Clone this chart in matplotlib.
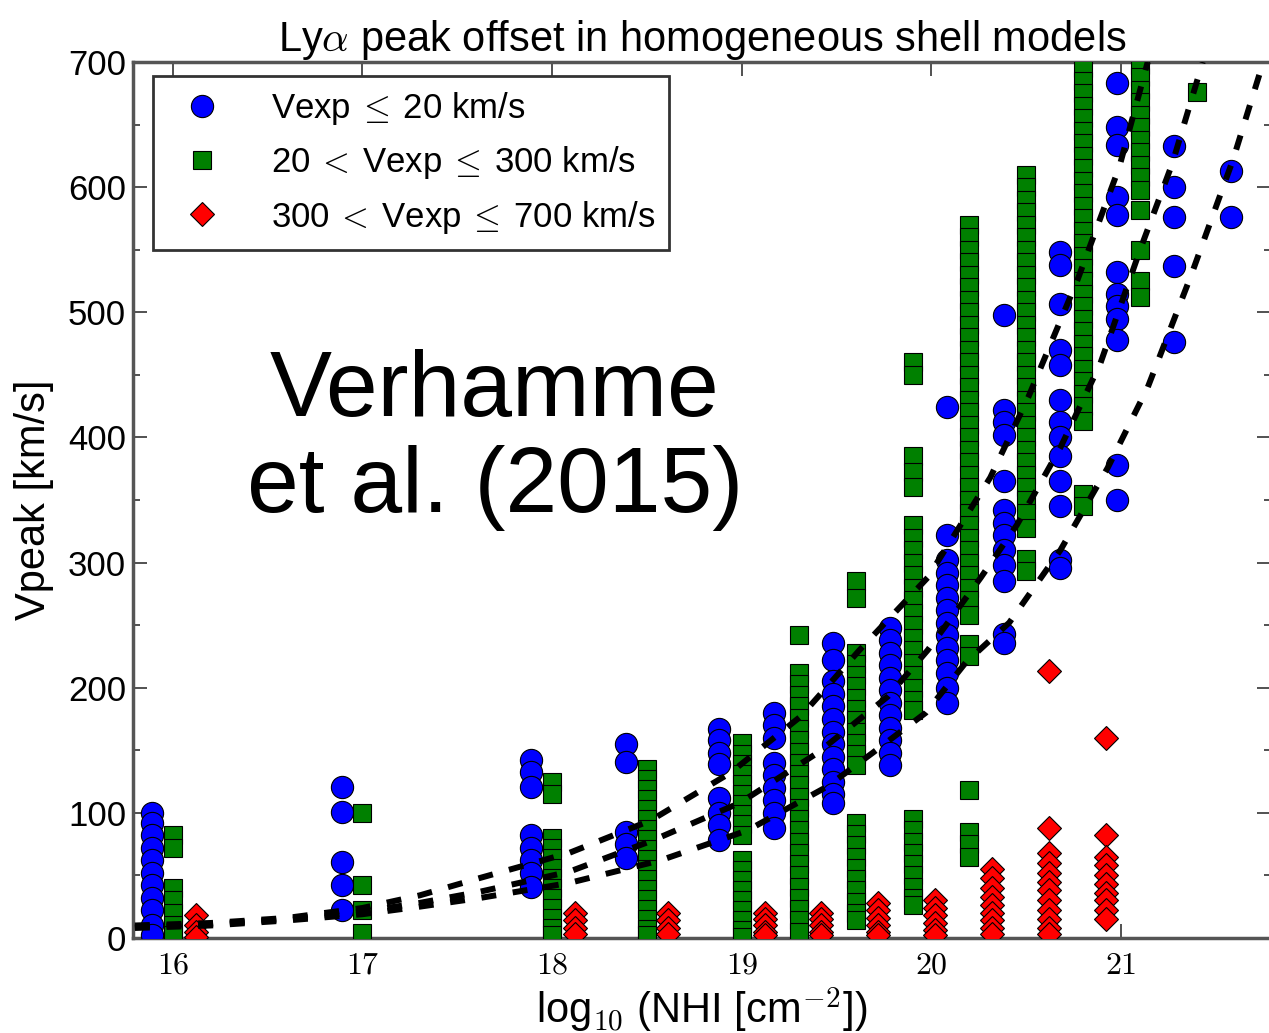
'''
Lya peak offset vs column density (shell models), redrawn
'''

import matplotlib
matplotlib.use('Agg')
import matplotlib.pyplot as plt
from matplotlib.ticker import MultipleLocator

plt.rcParams['font.family'] = ['Liberation Sans', 'DejaVu Sans']
plt.rcParams['mathtext.fontset'] = 'cm'

# blue circles: Vexp <= 20 km/s  (x column, peak velocities)
blue_x = [15.89, 16.89, 17.89, 18.39, 18.88, 19.17, 19.48, 19.78, 20.08, 20.38, 20.68, 20.98, 21.28, 21.58]
blue_v = [
    [100, 92, 82, 72, 62, 52, 42, 32, 22, 10, 2],
    [121, 101, 61, 42, 22],
    [142, 133, 121, 82, 72, 62, 52, 41],
    [155, 141, 85, 75, 64],
    [167, 158, 148, 139, 112, 100, 90, 78],
    [180, 170, 160, 140, 130, 120, 110, 100, 88],
    [236, 222, 205, 195, 185, 175, 165, 155, 145, 135, 125, 115, 108],
    [248, 238, 228, 218, 208, 198, 188, 178, 168, 158, 148, 138],
    [424, 322, 302, 292, 282, 272, 262, 252, 242, 232, 222, 212, 200, 188],
    [498, 422, 412, 402, 365, 342, 332, 322, 310, 298, 285, 243, 236],
    [548, 538, 507, 470, 458, 430, 412, 400, 385, 365, 345, 302, 296],
    [683, 648, 634, 592, 578, 532, 515, 505, 495, 478, 378, 350],
    [633, 600, 576, 537, 476],
    [613, 576],
]

# green squares: 20 < Vexp <= 300 km/s
green_x = [16.0, 17.0, 18.0, 18.5, 19.0, 19.3, 19.6, 19.9, 20.2, 20.5, 20.8, 21.1, 21.4]
green_v = [
    [82, 72, 40, 30, 20, 10, 2],
    [100, 42, 22, 4],
    [125, 115, 80, 72, 64, 56, 48, 40, 32, 24, 16, 8, 2],
    [135, 127, 119, 111, 103, 95, 87, 79, 71, 63, 55, 47, 39, 31, 23, 15, 7, 2],
    [156, 147, 139, 131, 123, 115, 107, 99, 91, 82, 62, 54, 46, 38, 30, 22, 14, 6, 1],
    [242, 212, 203, 194, 185, 176, 167, 158, 149, 140, 131, 122, 113, 104, 95, 86, 77,
     68, 59, 50, 41, 32, 23, 14, 5],
    [285, 272, 228, 219, 210, 201, 192, 183, 174, 165, 156, 147, 138,
     92, 83, 74, 65, 56, 47, 38, 29, 20, 14],
    [460, 450, 385, 372, 360, 330, 320, 310, 300, 290, 280, 270, 260, 250, 240, 230,
     220, 210, 200, 190, 182, 95, 86, 77, 68, 59, 50, 41, 32, 26],
    [570, 560, 550, 540, 530, 520, 510, 500, 490, 480, 470, 460, 450, 440, 430, 420,
     410, 400, 390, 380, 370, 360, 350, 340, 330, 320, 310, 300, 290, 280, 270, 258,
     235, 225, 118, 85, 75, 65],
    [610, 600, 590, 580, 570, 560, 550, 540, 530, 520, 510, 500, 490, 480, 470, 460,
     450, 440, 430, 420, 410, 400, 390, 380, 370, 360, 350, 340, 328, 303, 293],
    [695, 685, 675, 665, 655, 645, 635, 625, 615, 605, 595, 585, 575, 565, 555, 545,
     535, 525, 515, 505, 495, 485, 475, 465, 455, 445, 435, 425, 413, 355, 345],
    [698, 688, 678, 668, 658, 648, 638, 628, 618, 608, 598, 582, 550, 525, 512],
    [676],
]

# red diamonds: 300 < Vexp <= 700 km/s
red_x = [16.12, 18.12, 18.61, 19.12, 19.42, 19.72, 20.02, 20.32, 20.62, 20.92]
red_v = [
    [18, 10, 5, 1],
    [20, 14, 8, 3],
    [20, 14, 8, 3],
    [20, 15, 10, 5, 2],
    [20, 15, 10, 5, 2],
    [28, 22, 16, 10, 5, 2],
    [30, 24, 18, 12, 6, 2],
    [55, 48, 40, 33, 26, 20, 14, 8, 3],
    [213, 88, 68, 60, 52, 45, 38, 30, 22, 15, 8, 3],
    [160, 82, 65, 58, 50, 43, 36, 30, 22, 15],
]

# dashed curves
lineA_x = [15.80, 16.20, 16.60, 17.00, 17.30, 17.62, 18.09, 18.52, 18.94, 19.31, 19.62, 19.98, 20.31, 20.51, 20.77, 20.99, 21.14]
lineA_v = [10, 12, 16, 24, 34, 48, 68, 94, 132, 177, 230, 288, 368, 432, 526, 616, 700]
lineB_x = [15.80, 16.20, 16.60, 17.00, 17.30, 17.62, 18.09, 18.53, 18.99, 19.40, 19.77, 19.98, 20.26, 20.45, 20.68, 20.89, 21.10, 21.27, 21.43]
lineB_v = [9, 11, 15, 21, 28, 37, 53, 78, 108, 148, 193, 230, 288, 330, 392, 459, 550, 619, 700]
lineC_x = [15.80, 16.20, 16.60, 17.00, 17.30, 17.62, 18.09, 18.57, 19.03, 19.45, 19.69, 19.97, 20.18, 20.41, 20.68, 20.93, 21.14, 21.37, 21.59, 21.79]
lineC_v = [8, 10, 14, 19, 25, 32, 44, 62, 86, 121, 148, 180, 220, 252, 310, 376, 440, 530, 622, 720]

x_ticks = [16, 17, 18, 19, 20, 21]
x_tick_labels = [r'$16$', r'$17$', r'$18$', r'$19$', r'$20$', r'$21$']
labels = [r'Vexp$\:\leq\:$20 km/s',
          r'20$\:<\:$Vexp$\:\leq\:$300 km/s',
          r'300$\:<\:$Vexp$\:\leq\:$700 km/s']


def flatten(xs, vs):
    fx, fv = [], []
    for x, col in zip(xs, vs):
        fx += [x] * len(col)
        fv += col
    return fx, fv


fig = plt.figure(figsize=(12.69, 10.33), dpi=100)
ax = fig.add_axes([133 / 1269, 95 / 1033, 1138 / 1269, 876 / 1033])

bx, bv = flatten(blue_x, blue_v)
gx, gv = flatten(green_x, green_v)
rx, rv = flatten(red_x, red_v)

ax.plot(bx, bv, 'o', color='#0000ff', mec='k', mew=0.8, ms=16, label=labels[0], zorder=3)
ax.plot(gx, gv, 's', color='#008000', mec='k', mew=0.8, ms=13.5, label=labels[1], zorder=3)
ax.plot(rx, rv, 'D', color='#ff0000', mec='k', mew=0.8, ms=12, label=labels[2], zorder=3)

for lx, lv in [(lineA_x, lineA_v), (lineB_x, lineB_v), (lineC_x, lineC_v)]:
    ax.plot(lx, lv, color='k', lw=4.3, dashes=(2.5, 2.8), zorder=4)

ax.set_xlim(15.79, 21.79)
ax.set_ylim(0, 700)
ax.set_xticks(x_ticks)
ax.set_xticklabels(x_tick_labels)
ax.yaxis.set_major_locator(MultipleLocator(100))
ax.yaxis.set_minor_locator(MultipleLocator(50))

ax.tick_params(which='both', direction='in', top=True, right=True, width=1.2, color='#333333')
ax.tick_params(which='major', length=10)
ax.tick_params(which='minor', length=5)
ax.tick_params(axis='y', labelsize=25, pad=5)
ax.tick_params(axis='x', labelsize=23, pad=9)

for s in ax.spines.values():
    s.set_linewidth(2.5)
    s.set_color('#555555')

ax.set_title(r'Ly$\alpha$ peak offset in homogeneous shell models', fontsize=30, pad=7)
ax.set_ylabel('Vpeak [km/s]', fontsize=30, labelpad=10)
ax.set_xlabel(r'log$_{10}$ (NHI [cm$^{-2}$])', fontsize=30, labelpad=4)

leg = ax.legend(loc='upper left', bbox_to_anchor=(0.0176, 0.984), borderaxespad=0,
                numpoints=1, fontsize=25, handlelength=2.0, handletextpad=1.0,
                labelspacing=0.5, fancybox=False, framealpha=1, borderpad=0.4)
leg.get_frame().set_edgecolor('#333333')
leg.get_frame().set_linewidth(2)

ax.text(0.318, 0.568, 'Verhamme\net al. (2015)', transform=ax.transAxes,
        ha='center', va='center', fontsize=67, family=['Liberation Sans'],
        linespacing=1.15, zorder=5)

fig.savefig('out.png', dpi=100)
